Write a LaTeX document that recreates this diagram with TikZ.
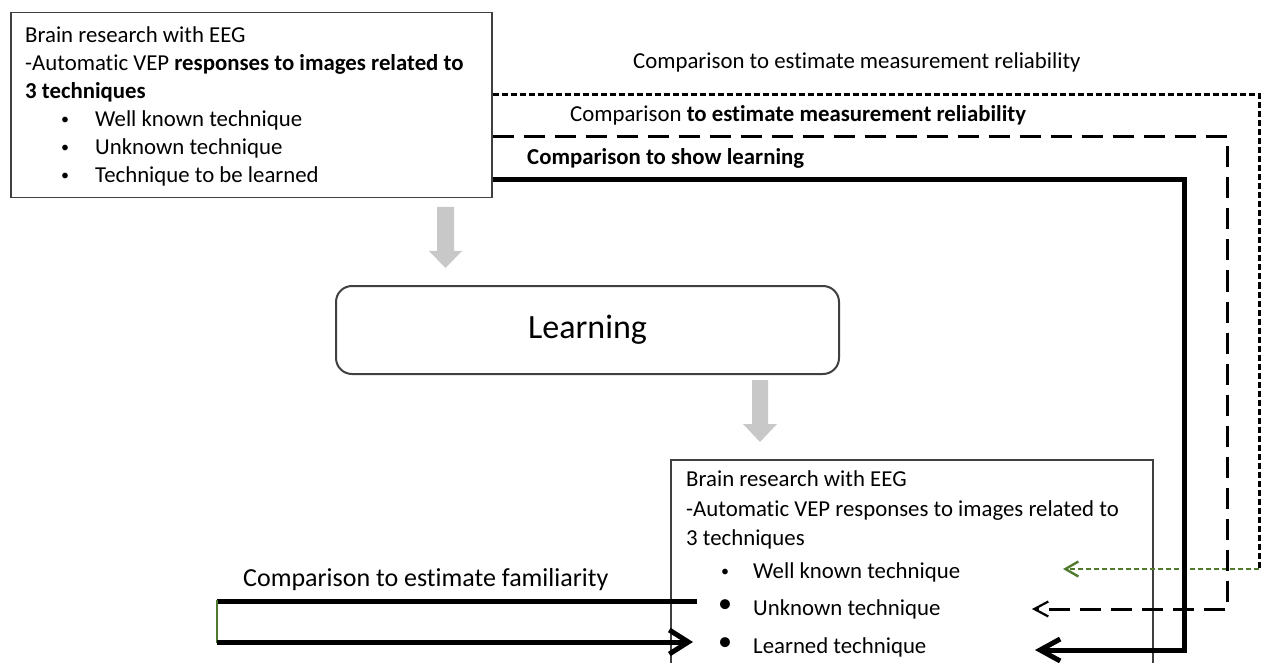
\documentclass[tikz,border=0pt]{standalone}
\usepackage{fontspec}
\setmainfont{Carlito}[Ligatures=NoCommon]
\usetikzlibrary{arrows.meta}
\definecolor{boxline}{HTML}{404040}
\definecolor{blockgray}{HTML}{C8C8C8}
\definecolor{dgreen}{HTML}{4F7A2E}
\begin{document}
\begin{tikzpicture}[x=1pt,y=-1pt,
  txt/.style={inner sep=0pt, font=\fontsize{22.8}{28}\selectfont, anchor=base west},
  bigtxt/.style={inner sep=0pt, font=\fontsize{26}{30}\selectfont, anchor=base west},
  bul/.style={inner sep=0pt, font=\fontsize{16}{16}\selectfont, anchor=base},
  bigbul/.style={inner sep=0pt, font=\fontsize{28}{28}\selectfont, anchor=base},
  infobox/.style={draw=boxline, line width=1.5pt, inner sep=0pt, anchor=north west},
  learnbox/.style={draw=boxline, line width=2pt, rounded corners=16pt, inner sep=0pt,
     font=\fontsize{34}{40}\selectfont},
  shortdash/.style={line width=3pt, dash pattern=on 6pt off 3pt},
  longdash/.style={line width=3pt, dash pattern=on 21pt off 10pt},
  heavy/.style={line width=5pt},
  blockarrow/.style={fill=blockgray}
]
\useasboundingbox (0,0) rectangle (1264,663);

% top box
\node[infobox, minimum width=481pt, minimum height=185pt] (top) at (10,12) {};
\node[txt] (t1) at (25,43) {Brain research with EEG};
\node[txt] (t2) at (25,71) {-Automatic VEP \textbf{responses to images related to}};
\node[txt] (t3) at (25,99) {\textbf{3 techniques}};
\node[bul] (tb1) at (65,125) {•};
\node[txt] (t4) at (95,127) {Well known technique};
\node[bul] (tb2) at (65,153) {•};
\node[txt] (t5) at (95,155) {Unknown technique};
\node[bul] (tb3) at (65,181) {•};
\node[txt] (t6) at (95,183) {Technique to be learned};

% learning box
\node[learnbox, minimum width=503pt, minimum height=88pt] (learn) at (587.5,330) {Learning};

% bottom box
\node[infobox, minimum width=482pt, minimum height=230pt] (bot) at (670,459) {};
\node[txt] (u1) at (686,486) {Brain research with EEG};
\node[txt] (u2) at (686,516) {-Automatic VEP responses to images related to};
\node[txt] (u3) at (686,545) {3 techniques};
\node[bul] (ub1) at (725,576) {•};
\node[txt] (u4) at (753,578) {Well known technique};
\node[bigbul] (ub2) at (725,612) {•};
\node[txt] (u5) at (753,615) {Unknown technique};
\node[bigbul] (ub3) at (725,650) {•};
\node[txt] (u6) at (753,653) {Learned technique};

% labels
\node[txt] (c1) at (633,69) {Comparison to estimate measurement reliability};
\node[txt] (c2) at (570,122) {Comparison \textbf{to estimate measurement reliability}};
\node[txt] (c3) at (527,165) {\textbf{Comparison to show learning}};
\node[bigtxt] (c4) at (243,586) {Comparison to estimate familiarity};

% gray block arrows
\fill[blockarrow] (437,207) -- (454,207) -- (454,251) -- (462,251) -- (445.5,268)
  -- (429,251) -- (437,251) -- cycle;
\fill[blockarrow] (752,380) -- (768,380) -- (768,424) -- (777,424) -- (760,442)
  -- (743,424) -- (752,424) -- cycle;

% comparison connectors
\coordinate (gknown) at (1063,569);
\coordinate (gturn) at (1259,569);
\coordinate (unk) at (1032,609);
\coordinate (lrn) at (1035,650);
\draw[shortdash] (top.east |- 0,95) -- (1259,95) -- (gturn);
\draw[dgreen, line width=2.8pt, dash pattern=on 5pt off 3pt,
  -{Straight Barb[length=13pt,width=15pt,line width=2.4pt]}] (gturn) -- (gknown);
\draw[longdash, -{Straight Barb[length=14pt,width=15pt,line width=2.2pt]}]
  (top.east |- 0,137) -- (1227,137) -- (1227,609) -- (unk);
\draw[heavy, -{Straight Barb[length=20pt,width=22pt,line width=5pt]}]
  (top.east |- 0,180) -- (1184,180) -- (1184,650) -- (lrn);

% familiarity connector
\coordinate (fstart) at (697,601);
\coordinate (fend) at (693,642);
\draw[heavy] (fstart) -- (217,601);
\draw[dgreen, line width=1.5pt] (217,600) -- (217,643);
\draw[heavy, -{Straight Barb[length=19pt,width=24pt,line width=5pt]}] (217,642) -- (fend);
\end{tikzpicture}
\end{document}
